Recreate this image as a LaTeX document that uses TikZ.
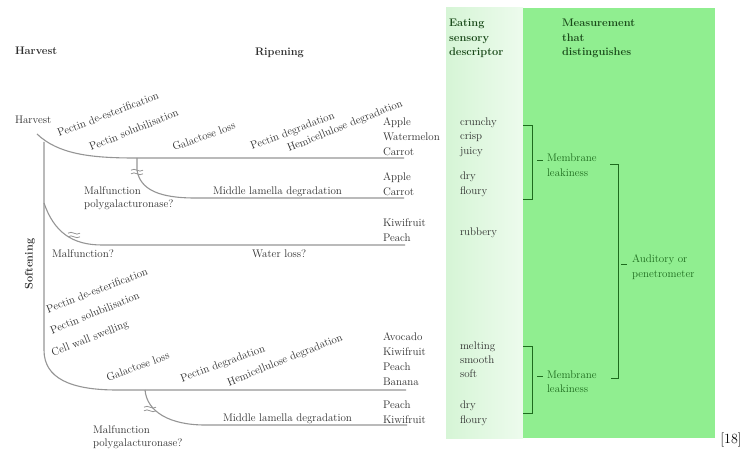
\documentclass[tikz,border=0pt]{standalone}
\usetikzlibrary{calc}
\definecolor{colLight}{HTML}{D6F5D6}
\definecolor{colLightR}{HTML}{EDFBED}
\definecolor{colDark}{HTML}{90EE90}
\definecolor{txtGreen}{HTML}{1E6B1E}
\definecolor{hdrGreen}{HTML}{1A4A1A}
\definecolor{lineGray}{HTML}{959595}
\definecolor{txtGray}{HTML}{2E2E2E}
\begin{document}
\begin{tikzpicture}[x=1pt,y=-1pt,
  every node/.style={inner sep=0pt,outer sep=0pt,font=\fontsize{11}{13}\selectfont,text=txtGray},
  lbl/.style={anchor=base west},
  hdr/.style={anchor=base west,font=\fontsize{11}{13}\selectfont\bfseries},
  glbl/.style={anchor=base west,text=txtGreen},
  slant/.style={anchor=base west,rotate=#1},
  path/.style={draw=lineGray,line width=1.1pt},
  brk/.style={draw=lineGray,line width=0.8pt},
  bracket/.style={draw=txtGreen,line width=0.8pt},
  brkmark/.pic={
    \draw[brk] (-6,-1.8) .. controls (-2,-5) and (2,1.4) .. (6,-1.8);
    \draw[brk] (-6,1.8) .. controls (-2,-1.4) and (2,5) .. (6,1.8);
  }]
\useasboundingbox (0,0) rectangle (747,457);

% column backgrounds
\shade[left color=colLight,right color=colLightR] (446,8) rectangle (523,438);
\fill[colDark] (523,8) rectangle (715,438);

% headings
\node[hdr] (hHarvest) at (15,55) {Harvest};
\node[hdr] (hRipening) at (255,56) {Ripening};
\node[hdr,text=hdrGreen] (hE1) at (449,27) {Eating};
\node[hdr,text=hdrGreen] (hE2) at (449,41.5) {sensory};
\node[hdr,text=hdrGreen] (hE3) at (449,56) {descriptor};
\node[hdr,text=hdrGreen] (hM1) at (562,27) {Measurement};
\node[hdr,text=hdrGreen] (hM2) at (562,41.5) {that};
\node[hdr,text=hdrGreen] (hM3) at (562,56) {distinguishes};
\node[hdr,rotate=90,anchor=center] (hSoft) at (30,264) {Softening};

% softening pathways
\node[lbl] (harvest) at (15,124) {Harvest};
\coordinate (hStart) at (37,134);
\coordinate (topEnd) at (404,158);
\draw[path] (hStart) .. controls (58,154) and (90,158) .. (135,158) -- (topEnd);
\coordinate (vTop) at (44,142);
\coordinate (botEnd) at (406,390);
\draw[path] (vTop) -- (44,350) .. controls (44,378) and (70,390) .. (117,390) -- (botEnd);

% branch: middle lamella (upper)
\coordinate (mlTop) at (137,158);
\coordinate (mlEnd) at (404,198);
\draw[path] (mlTop) -- (137,170) .. controls (140,190) and (160,198) .. (195,198) -- (mlEnd);
\pic at (137,172) {brkmark};

% branch: water loss
\coordinate (wlStart) at (44,203);
\coordinate (wlEnd) at (405,245);
\draw[path] (wlStart) .. controls (54,232) and (72,245) .. (102,245) -- (wlEnd);
\pic at (74,235) {brkmark};

% branch: middle lamella (lower)
\coordinate (ml2Top) at (145,390);
\coordinate (ml2End) at (407,425);
\draw[path] (ml2Top) .. controls (147,412) and (170,425) .. (205,425) -- (ml2End);
\pic at (150,409) {brkmark};

% process labels, upper pathway
\node[slant=21] (tPdE) at (59,137) {Pectin de-esterification};
\node[slant=22] (tPsol) at (91,151) {Pectin solubilisation};
\node[slant=20] (tGal) at (174,151) {Galactose loss};
\node[slant=21] (tPdeg) at (252,150) {Pectin degradation};
\node[slant=22] (tHem) at (289,152) {Hemicellulose degradation};
\node[lbl] (tMf1) at (84,195) {Malfunction};
\node[lbl] (tMf2) at (84,208) {polygalacturonase?};
\node[lbl] (tMld) at (213,195) {Middle lamella degradation};
\node[lbl] (tMfq) at (52,258) {Malfunction?};
\node[lbl] (tWl) at (252,258) {Water loss?};

% process labels, lower pathway
\node[slant=21] (bPdE) at (48,313) {Pectin de-esterification};
\node[slant=22] (bPsol) at (52,334) {Pectin solubilisation};
\node[slant=21] (bCws) at (53,356) {Cell wall swelling};
\node[slant=20] (bGal) at (108,381) {Galactose loss};
\node[slant=20] (bPdeg) at (182,382) {Pectin degradation};
\node[slant=22] (bHem) at (229,386) {Hemicellulose degradation};
\node[lbl] (bMld) at (223,421) {Middle lamella degradation};
\node[lbl] (bMf1) at (93,433) {Malfunction};
\node[lbl] (bMf2) at (93,446) {polygalacturonase?};

% fruit
\node[lbl] (f1) at (383,125.5) {Apple};
\node[lbl] (f2) at (383,140.5) {Watermelon};
\node[lbl] (f3) at (383,155.5) {Carrot};
\node[lbl] (f4) at (383,180.5) {Apple};
\node[lbl] (f5) at (383,195.5) {Carrot};
\node[lbl] (f6) at (383,226.5) {Kiwifruit};
\node[lbl] (f7) at (383,241.5) {Peach};
\node[lbl] (f8) at (383,340.5) {Avocado};
\node[lbl] (f9) at (383,355.5) {Kiwifruit};
\node[lbl] (f10) at (383,370.5) {Peach};
\node[lbl] (f11) at (383,385.5) {Banana};
\node[lbl] (f12) at (383,408.5) {Peach};
\node[lbl] (f13) at (383,423.5) {Kiwifruit};

% sensory descriptors
\node[lbl] (d1) at (460,126) {crunchy};
\node[lbl] (d2) at (460,140) {crisp};
\node[lbl] (d3) at (460,155) {juicy};
\node[lbl] (d4) at (460,180) {dry};
\node[lbl] (d5) at (460,195) {floury};
\node[lbl] (d6) at (460,236) {rubbery};
\node[lbl] (d7) at (460,349) {melting};
\node[lbl] (d8) at (460,363) {smooth};
\node[lbl] (d9) at (460,377) {soft};
\node[lbl] (d10) at (460,408) {dry};
\node[lbl] (d11) at (460,423) {floury};

% measurements
\node[glbl] (m1a) at (547,162) {Membrane};
\node[glbl] (m1b) at (547,177) {leakiness};
\node[glbl] (m2a) at (547,378) {Membrane};
\node[glbl] (m2b) at (547,392) {leakiness};
\node[glbl] (m3a) at (632,262) {Auditory or};
\node[glbl] (m3b) at (632,277) {penetrometer};

% brackets
\draw[bracket] (523,125) -- (532,125) -- (532,199) -- (523,199);
\draw[bracket] (537,160) -- (543,160);
\draw[bracket] (523,346) -- (532,346) -- (532,413) -- (523,413);
\draw[bracket] (537,376) -- (543,376);
\draw[bracket] (610,164) -- (618,164) -- (618,378) -- (611,378);
\draw[bracket] (621,264) -- (627,264);

% reference mark
\node[anchor=center,font=\fontsize{14}{16}\selectfont,text=black] (ref) at (731,440) {[18]};
\end{tikzpicture}
\end{document}
